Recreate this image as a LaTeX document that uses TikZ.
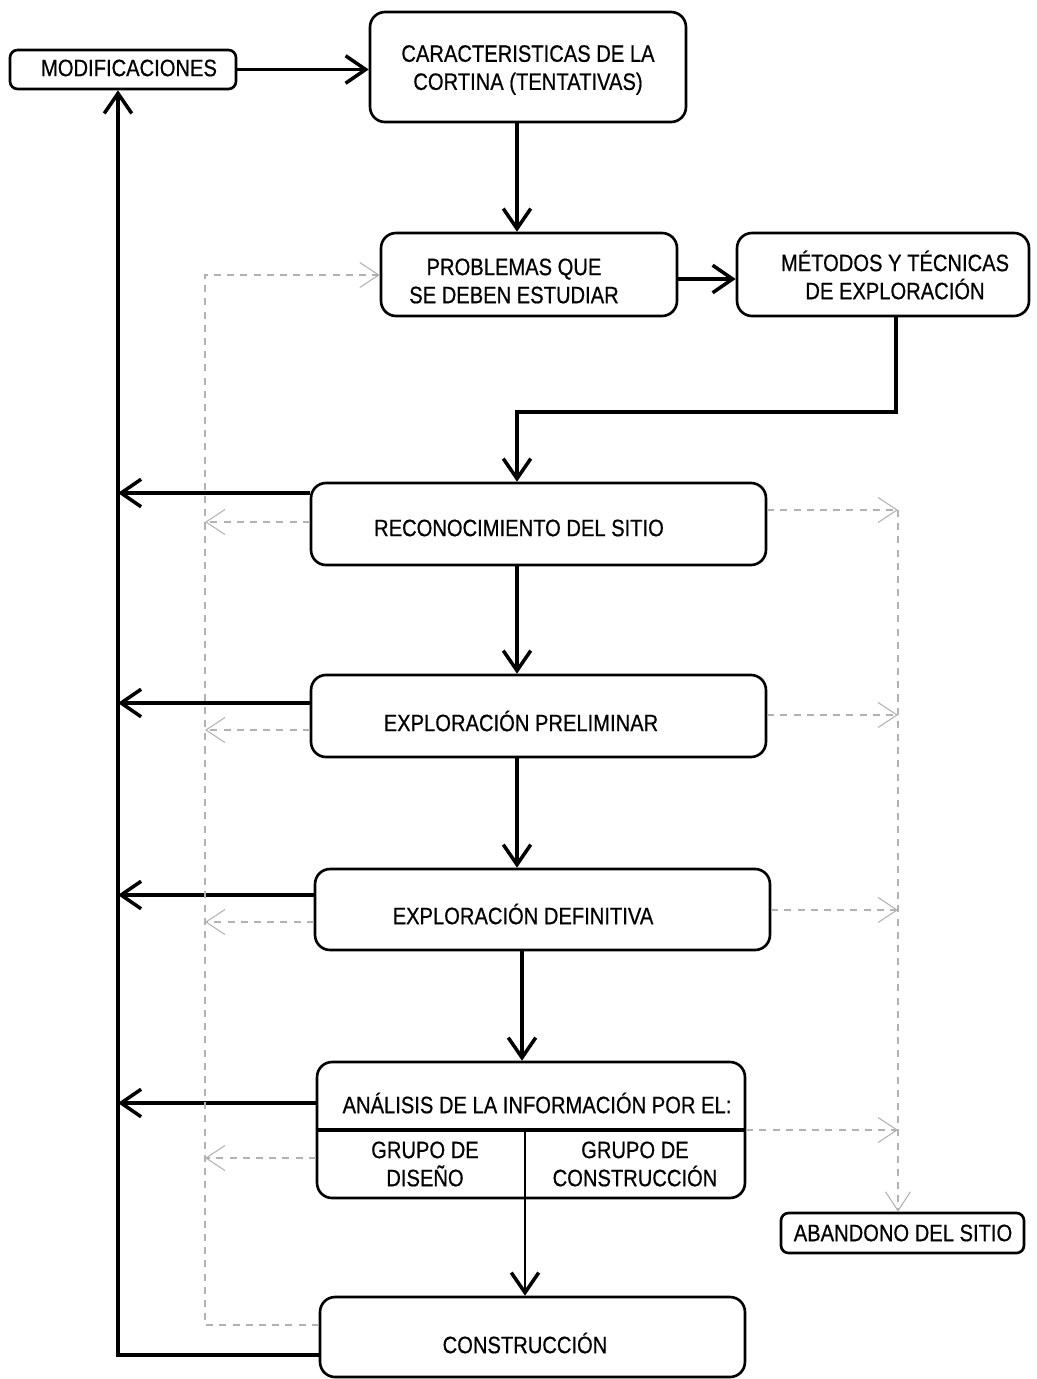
\documentclass[tikz,border=0pt]{standalone}
\usepackage{fontspec}
\setmainfont[FakeStretch=0.85,FakeBold=0.6]{Liberation Sans}
\usetikzlibrary{arrows.meta}
\begin{document}
\begin{tikzpicture}[x=0.02cm,y=-0.02cm,
  font=\fontsize{13.5}{16}\selectfont,
  box/.style={draw, line width=1.5pt, rounded corners=0.3cm, inner sep=0pt},
  smallbox/.style={box, rounded corners=0.15cm},
  txt/.style={align=center, inner sep=0pt},
  arr/.style={line width=2pt, -{Straight Barb[length=0.4cm,width=0.55cm,line width=2pt]}},
  dsh/.style={draw=gray!60, line width=0.6pt, dash pattern=on 4pt off 3.5pt},
  darr/.style={dsh, -{Straight Barb[length=0.38cm,width=0.5cm,line width=0.6pt]}}]
\useasboundingbox (0,0) rectangle (1037,1379);

% boxes
\node[smallbox, minimum width=4.52cm, minimum height=0.78cm] (mod) at (123,69.5) {};
\node[txt] (modT) at (129,68) {MODIFICACIONES};
\node[box, minimum width=6.32cm, minimum height=2.2cm] (car) at (528,67) {};
\node[txt] (carT) at (528,70) {CARACTERISTICAS DE LA\\CORTINA (TENTATIVAS)};
\node[box, minimum width=5.92cm, minimum height=1.66cm] (prob) at (529,274.5) {};
\node[txt] (probT) at (514,281) {PROBLEMAS QUE\\SE DEBEN ESTUDIAR};
\node[box, minimum width=5.84cm, minimum height=1.66cm] (met) at (883,274.5) {};
\node[txt] (metT) at (895,275) {MÉTODOS Y TÉCNICAS\\DE EXPLORACIÓN};
\node[box, minimum width=9.1cm, minimum height=1.64cm] (rec) at (538.5,524) {};
\node[txt] (recT) at (519,528) {RECONOCIMIENTO DEL SITIO};
\node[box, minimum width=9.1cm, minimum height=1.64cm] (pre) at (538.5,716) {};
\node[txt] (preT) at (521,721) {EXPLORACIÓN PRELIMINAR};
\node[box, minimum width=9.1cm, minimum height=1.62cm] (def) at (542.5,909.5) {};
\node[txt] (defT) at (523,914) {EXPLORACIÓN DEFINITIVA};
\node[box, minimum width=8.56cm, minimum height=2.72cm] (ana) at (531,1130) {};
\node[txt] (anaT) at (537,1103) {ANÁLISIS DE LA INFORMACIÓN POR EL:};
\node[txt] (anaA) at (425,1164) {GRUPO DE\\DISEÑO};
\node[txt] (anaB) at (635,1164) {GRUPO DE\\CONSTRUCCIÓN};
\node[smallbox, minimum width=4.86cm, minimum height=0.8cm] (aba) at (902.5,1233) {};
\node[txt] (abaT) at (903,1233) {ABANDONO DEL SITIO};
\node[box, minimum width=8.5cm, minimum height=1.6cm] (con) at (532.5,1337) {};
\node[txt] (conT) at (525,1343) {CONSTRUCCIÓN};

% dividers inside the analysis box
\coordinate (dv) at (525,1130);
\draw[line width=1.8pt] (ana.west |- dv) -- (ana.east |- dv);
\draw[line width=1.5pt] (dv) -- (dv |- ana.south);

% main flow
\coordinate (xa) at (517,0);
\coordinate (b1) at (896,412);
\coordinate (b2) at (517,412);
\draw[arr] (mod.east) -- (mod.east -| car.west);
\draw[arr] (car.south -| xa) -- (prob.north -| xa);
\draw[arr] (prob.east |- 0,279) -- (met.west |- 0,279);
\draw[arr] (met.south -| b1) -- (b1) -- (b2) -- (rec.north -| b2);
\draw[arr] (rec.south -| xa) -- (pre.north -| xa);
\draw[arr] (pre.south -| xa) -- (def.north -| xa);
\draw[arr] (def.south -| 522,0) -- (ana.north -| 522,0);
\draw[arr, line width=1.5pt] (ana.south -| dv) -- (con.north -| dv);

% feedback to modifications
\coordinate (Lb) at (118,1355);
\draw[arr] (con.west |- Lb) -- (Lb) -- (Lb |- mod.south);
\draw[arr] (rec.west |- 0,493) -- (Lb |- 0,493);
\draw[arr] (pre.west |- 0,703) -- (Lb |- 0,703);
\draw[arr] (def.west |- 0,895) -- (Lb |- 0,895);
\draw[arr] (ana.west |- 0,1103) -- (Lb |- 0,1103);

% dashed return to the problems to study
\coordinate (Db) at (205,1325);
\draw[darr] (con.west |- Db) -- (Db) -- (Db |- 0,275) -- (prob.west |- 0,275);
\draw[darr] (rec.west |- 0,522) -- (Db |- 0,522);
\draw[darr] (pre.west |- 0,730) -- (Db |- 0,730);
\draw[darr] (def.west |- 0,922) -- (Db |- 0,922);
\draw[darr] (ana.west |- 0,1158) -- (Db |- 0,1158);

% dashed path to abandoning the site
\coordinate (Rt) at (898,510);
\draw[darr] (rec.east |- Rt) -- (Rt);
\draw[darr] (Rt) -- (aba.north -| Rt);
\draw[darr] (pre.east |- 0,715) -- (Rt |- 0,715);
\draw[darr] (def.east |- 0,910) -- (Rt |- 0,910);
\draw[darr] (ana.east |- dv) -- (Rt |- dv);
\end{tikzpicture}
\end{document}
